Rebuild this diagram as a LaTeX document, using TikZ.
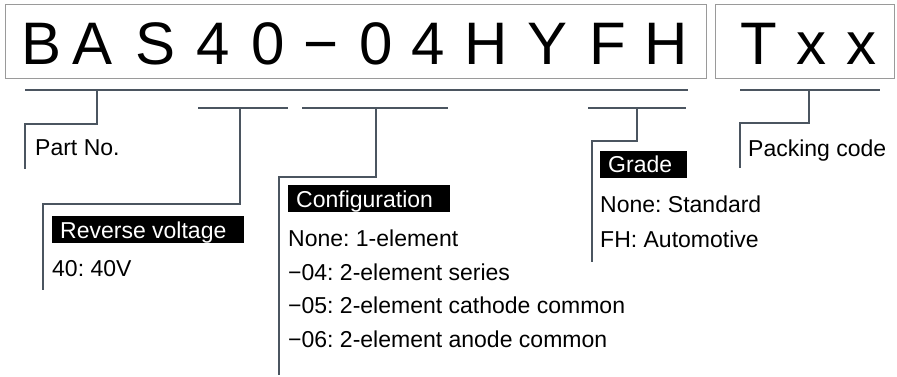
\documentclass[tikz,border=0pt]{standalone}
\usepackage{fontspec}
\setmainfont{Liberation Sans}
\frenchspacing
\definecolor{linec}{HTML}{4B5560}
\definecolor{boxc}{HTML}{9A9A9A}
\begin{document}
\begin{tikzpicture}[x=1pt,y=-1pt,
  bigch/.style={anchor=base,inner sep=0,font=\fontsize{60}{72}\selectfont},
  lbl/.style={anchor=base west,inner sep=0,font=\fontsize{23}{28}\selectfont},
  hdr/.style={anchor=base west,inner sep=0,text=white,font=\fontsize{23}{28}\selectfont},
  hdrbox/.style={fill=black,anchor=north west,inner sep=0},
  codebox/.style={draw=boxc,line width=1.2pt,anchor=north west,inner sep=0},
  brk/.style={draw=linec,line width=1.8pt}]
\useasboundingbox (0,0) rectangle (897,377);
% code boxes
\node[codebox,minimum width=701,minimum height=74] (box1) at (4.5,4) {};
\node[codebox,minimum width=179,minimum height=74] (box2) at (715,4) {};
% big characters
\foreach \ch/\cx [count=\i] in {B/42,A/93,S/156,4/213,0/268,−/321,0/376,4/428,H/486,Y/548,F/608,H/666,T/759,x/811,x/861}
  \node[bigch] (c\i) at (\cx,65) {\ch};
% coordinates
\coordinate (t1) at (25,90);   \coordinate (t2) at (688,90);
\coordinate (p0) at (97,90);   \coordinate (p1) at (97,124);  \coordinate (p2) at (25,124); \coordinate (p3) at (25,169);
\coordinate (r1) at (198,108); \coordinate (r2) at (288,108);
\coordinate (ra) at (240,108); \coordinate (rb) at (240,204); \coordinate (rc) at (43,204);  \coordinate (rd) at (43,290);
\coordinate (k1) at (302,108); \coordinate (k2) at (448,108);
\coordinate (ka) at (376,108); \coordinate (kb) at (376,177); \coordinate (kc) at (279,177); \coordinate (kd) at (279,375);
\coordinate (g1) at (588,108); \coordinate (g2) at (686,108);
\coordinate (ga) at (637,108); \coordinate (gb) at (637,141); \coordinate (gc) at (592,141); \coordinate (gd) at (592,262);
\coordinate (q1) at (740,90);  \coordinate (q2) at (880,90);
\coordinate (qa) at (809,90);  \coordinate (qb) at (809,123); \coordinate (qc) at (740,123); \coordinate (qd) at (740,168);
% brackets
\draw[brk] (t1) -- (t2);
\draw[brk] (p0) -- (p1) -- (p2) -- (p3);
\draw[brk] (r1) -- (r2);
\draw[brk] (ra) -- (rb) -- (rc) -- (rd);
\draw[brk] (k1) -- (k2);
\draw[brk] (ka) -- (kb) -- (kc) -- (kd);
\draw[brk] (g1) -- (g2);
\draw[brk] (ga) -- (gb) -- (gc) -- (gd);
\draw[brk] (q1) -- (q2);
\draw[brk] (qa) -- (qb) -- (qc) -- (qd);
% labels
\node[lbl] (part) at (35,156) {Part No.};
\node[lbl] (pack) at (748,157) {Packing code};
\node[hdrbox,minimum width=192,minimum height=27] (rvbox) at (52,216) {};
\node[hdr] (rvh) at (60,238) {Reverse voltage};
\node[lbl] (rv1) at (52,276) {40: 40V};
\node[hdrbox,minimum width=162,minimum height=27] (cfbox) at (288,185) {};
\node[hdr] (cfh) at (296,207) {Configuration};
\node[lbl] (cf1) at (288,246) {None: 1-element};
\node[lbl] (cf2) at (288,280) {−04: 2-element series};
\node[lbl] (cf3) at (288,313) {−05: 2-element cathode common};
\node[lbl] (cf4) at (288,347) {−06: 2-element anode common};
\node[hdrbox,minimum width=87,minimum height=27] (grbox) at (600,151) {};
\node[hdr] (grh) at (608,172) {Grade};
\node[lbl] (gr1) at (600,212) {None: Standard};
\node[lbl] (gr2) at (600,247) {FH: Automotive};
\end{tikzpicture}
\end{document}
